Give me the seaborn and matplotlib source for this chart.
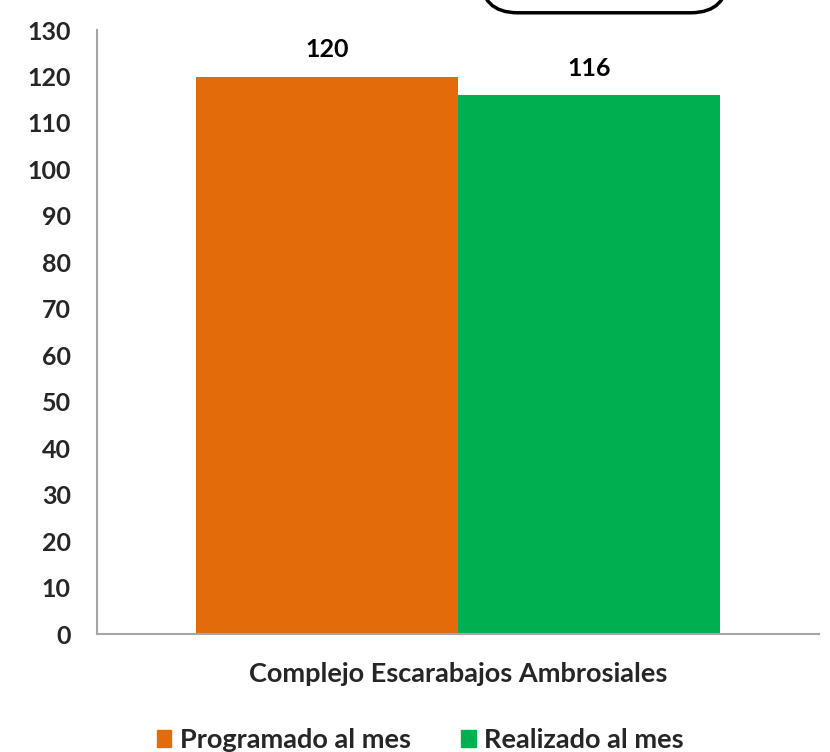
import pandas as pd
import matplotlib.pyplot as plt
import seaborn as sns
from matplotlib.patches import FancyBboxPatch

# Data
categorias = ["Complejo Escarabajos Ambrosiales"]
series = ["Programado al mes", "Realizado al mes"]
valores = [120, 116]
colores = ["#E36C0A", "#00B050"]
yticks = list(range(0, 140, 10))

df = pd.DataFrame({
    "categoria": categorias * len(series),
    "serie": series,
    "valor": valores,
})

sns.set_style("white")
plt.rcParams["font.family"] = ["Lato", "DejaVu Sans"]

fig = plt.figure(figsize=(8.3, 7.52), dpi=100)
ax = fig.add_axes([0.1169, 0.1569, 0.8698, 0.8031])

sns.barplot(data=df, x="categoria", y="valor", hue="serie", palette=colores,
            width=0.726, saturation=1, linewidth=0, ax=ax, legend=False)

for cont in ax.containers:
    ax.bar_label(cont, padding=11, fontsize=18, fontweight="bold", color="#000000")

ax.set_ylim(0, 130)
ax.set_xlim(-0.5, 0.5)
ax.set_yticks(yticks)
ax.set_yticklabels([str(t) for t in yticks], fontsize=18, fontweight="bold")
ax.tick_params(axis="y", length=0, pad=19)
ax.tick_params(axis="x", length=0, pad=20, labelsize=19.5)
for lab in ax.get_xticklabels():
    lab.set_fontweight("bold")
ax.set_xlabel("")
ax.set_ylabel("")
sns.despine(ax=ax)
for s in ["left", "bottom"]:
    ax.spines[s].set_color("#A6A6A6")
    ax.spines[s].set_linewidth(1.5)

# legend at the bottom
handles = [plt.Rectangle((0, 0), 1, 1, color=c) for c in colores]
fig.legend(handles, series, loc="center", bbox_to_anchor=(0.506, 0.016), ncol=2,
           frameon=False, prop={"size": 19.5, "weight": "bold"},
           handlelength=0.55, handleheight=0.55, handletextpad=0.3, columnspacing=1.85)

# rounded box cut off at the top of the picture
box = FancyBboxPatch((0.579, 0.983), 0.298, 0.12, boxstyle="round,pad=0,rounding_size=0.045",
                     transform=fig.transFigure, facecolor="white", edgecolor="black",
                     linewidth=2.5, mutation_aspect=830 / 752)
fig.patches.append(box)

fig.savefig("out.png", dpi=100)
